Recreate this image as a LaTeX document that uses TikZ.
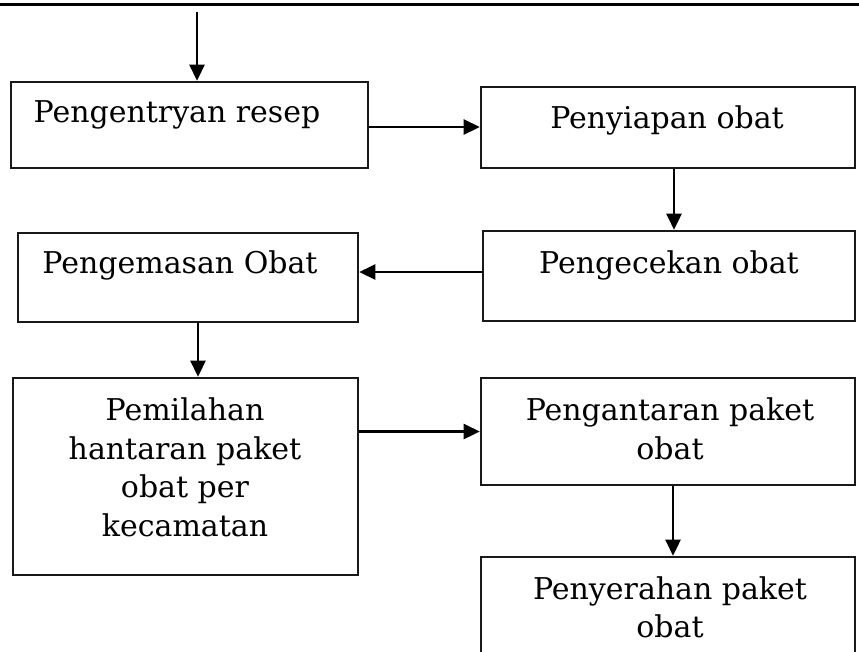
\documentclass[tikz,border=0pt]{standalone}
\usepackage{fontspec}
\setmainfont{DejaVu Serif}
\usetikzlibrary{arrows.meta}
\begin{document}
\begin{tikzpicture}[x=1pt,y=-1pt,
  box/.style={draw=black!90, line width=2.6pt, rectangle, inner sep=0pt},
  txt/.style={inner sep=0pt, align=center, font=\fontsize{30}{38.5}\selectfont},
  arr/.style={line width=2.6pt, -{Triangle[length=16pt,width=15pt]}}]
  \clip (0,0) rectangle (859,651);
  % rule across the top
  \coordinate (ruleL) at (0,4);
  \coordinate (ruleR) at (859,4);
  \draw[line width=3pt] (ruleL) -- (ruleR);

  % process boxes
  \node[box, minimum width=357, minimum height=86] (b1) at (189.5,125) {};
  \node[box, minimum width=374, minimum height=81] (b2) at (668,127.5) {};
  \node[box, minimum width=372, minimum height=90] (b3) at (669,276) {};
  \node[box, minimum width=340, minimum height=89] (b4) at (188,277.5) {};
  \node[box, minimum width=345, minimum height=197] (b5) at (185.5,476.5) {};
  \node[box, minimum width=374, minimum height=107] (b6) at (668,431.5) {};
  \node[box, minimum width=374, minimum height=140] (b7) at (668,627) {};

  % labels
  \node[txt] (t1) at (177,115) {Pengentryan resep};
  \node[txt] (t2) at (667,120) {Penyiapan obat};
  \node[txt] (t3) at (669,265) {Pengecekan obat};
  \node[txt] (t4) at (180,265) {Pengemasan Obat};
  \node[txt] (t5) at (185,467.5) {Pemilahan\\hantaran paket\\obat per\\kecamatan};
  \node[txt] (t6) at (670,429) {Pengantaran paket\\obat};
  \node[txt] (t7) at (670,607.5) {Penyerahan paket\\obat};

  % connectors
  \coordinate (start) at (197,12);
  \draw[arr] (start) -- (start |- b1.north);
  \draw[arr] ([yshift=-2pt]b1.east) -- ([yshift=-2pt]b1.east -| b2.west);
  \draw[arr] ([xshift=6pt]b2.south) -- ([xshift=6pt]b2.south |- b3.north);
  \draw[arr] ([yshift=4pt]b3.west) -- ([yshift=4pt]b3.west -| b4.east);
  \draw[arr] ([xshift=10pt]b4.south) -- ([xshift=10pt]b4.south |- b5.north);
  \draw[arr] (b5.east |- b6.west) -- (b6.west);
  \draw[arr] ([xshift=5pt]b6.south) -- ([xshift=5pt]b6.south |- b7.north);
\end{tikzpicture}
\end{document}
